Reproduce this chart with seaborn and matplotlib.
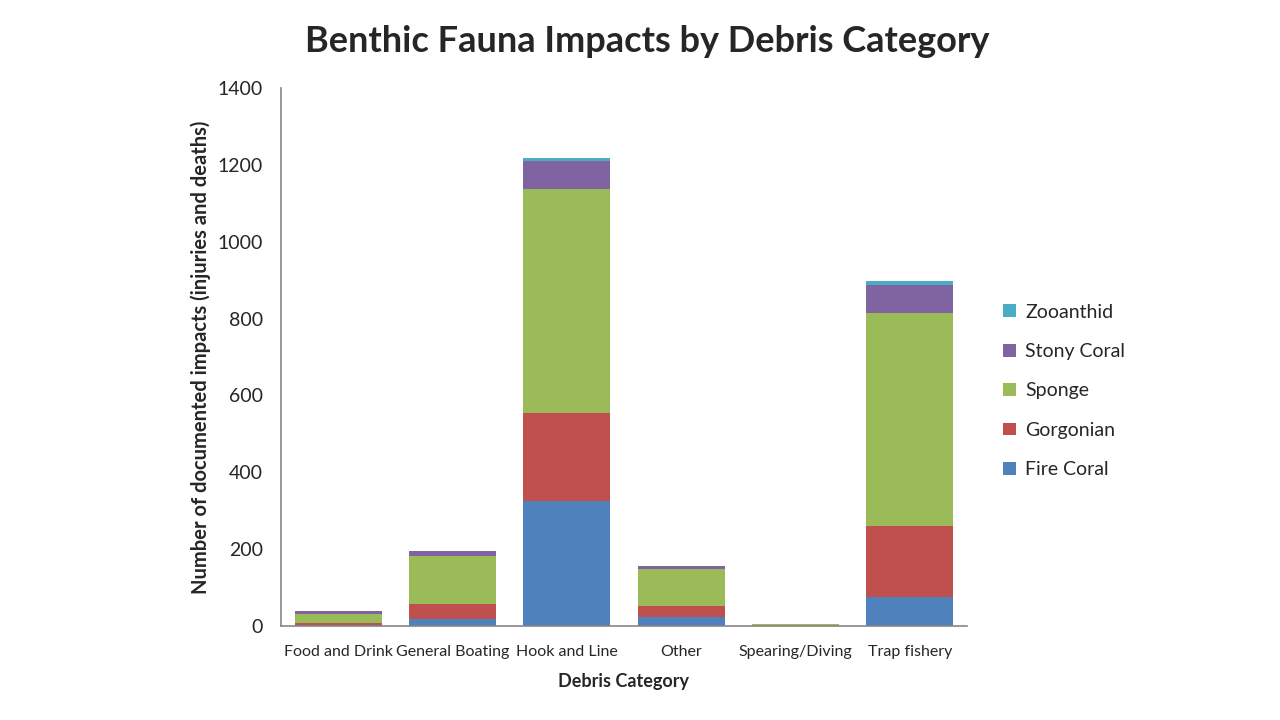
import matplotlib
matplotlib.use('Agg')
import matplotlib.pyplot as plt
import seaborn as sns
import pandas as pd
import numpy as np

categorias = ['Food and Drink', 'General Boating', 'Hook and Line', 'Other', 'Spearing/Diving', 'Trap fishery']
fire_coral = [3, 18, 326, 23, 0, 75]
gorgonian = [5, 39, 227, 29, 0, 186]
sponge = [24, 126, 583, 95, 4, 553]
stony_coral = [7, 13, 74, 8, 0, 73]
zooanthid = [0, 0, 9, 0, 0, 12]

grupos = ['Fire Coral', 'Gorgonian', 'Sponge', 'Stony Coral', 'Zooanthid']
cores = ['#4F81BD', '#C0504D', '#9BBB59', '#8064A2', '#4BACC6']

df = pd.DataFrame({'categoria': categorias, 'Fire Coral': fire_coral, 'Gorgonian': gorgonian,
                   'Sponge': sponge, 'Stony Coral': stony_coral, 'Zooanthid': zooanthid})

sns.set_style('white')
plt.rcParams['font.family'] = ['Lato', 'DejaVu Sans']

fig = plt.figure(figsize=(12.8, 7.2), dpi=100)
ax = fig.add_axes([0.2195, 0.1306, 0.536, 0.7472])

# empilha desenhando a soma acumulada, do topo para a base
acumulado = df[grupos].cumsum(axis=1)
for g, c in zip(grupos[::-1], cores[::-1]):
    sns.barplot(x=df['categoria'], y=acumulado[g], color=c, width=0.76, label=g,
                saturation=1, linewidth=0, ax=ax)

ax.set_ylim(0, 1400)
ax.set_yticks(range(0, 1401, 200))
ax.set_xlim(-0.5, 5.5)
for s in ['top', 'right']:
    ax.spines[s].set_visible(False)
for s in ['left', 'bottom']:
    ax.spines[s].set_color('#868686')
    ax.spines[s].set_linewidth(1.2)
ax.tick_params(axis='both', length=0)
ax.tick_params(axis='y', labelsize=14, pad=13)
ax.tick_params(axis='x', labelsize=11.5, pad=14)

ax.set_xlabel('Debris Category', fontsize=13, fontweight='bold', labelpad=10)
ax.set_ylabel('Number of documented impacts (injuries and deaths)', fontsize=14.5, fontweight='bold', labelpad=5)
fig.suptitle('Benthic Fauna Impacts by Debris Category', fontsize=26, fontweight='bold', x=0.506, y=0.965)

ax.legend(loc='center left', bbox_to_anchor=(0.770, 0.457), bbox_transform=fig.transFigure,
          frameon=False, fontsize=14, handlelength=0.65, handleheight=0.65, labelspacing=1.15, handletextpad=0.5)

fig.savefig('out.png', dpi=100)
